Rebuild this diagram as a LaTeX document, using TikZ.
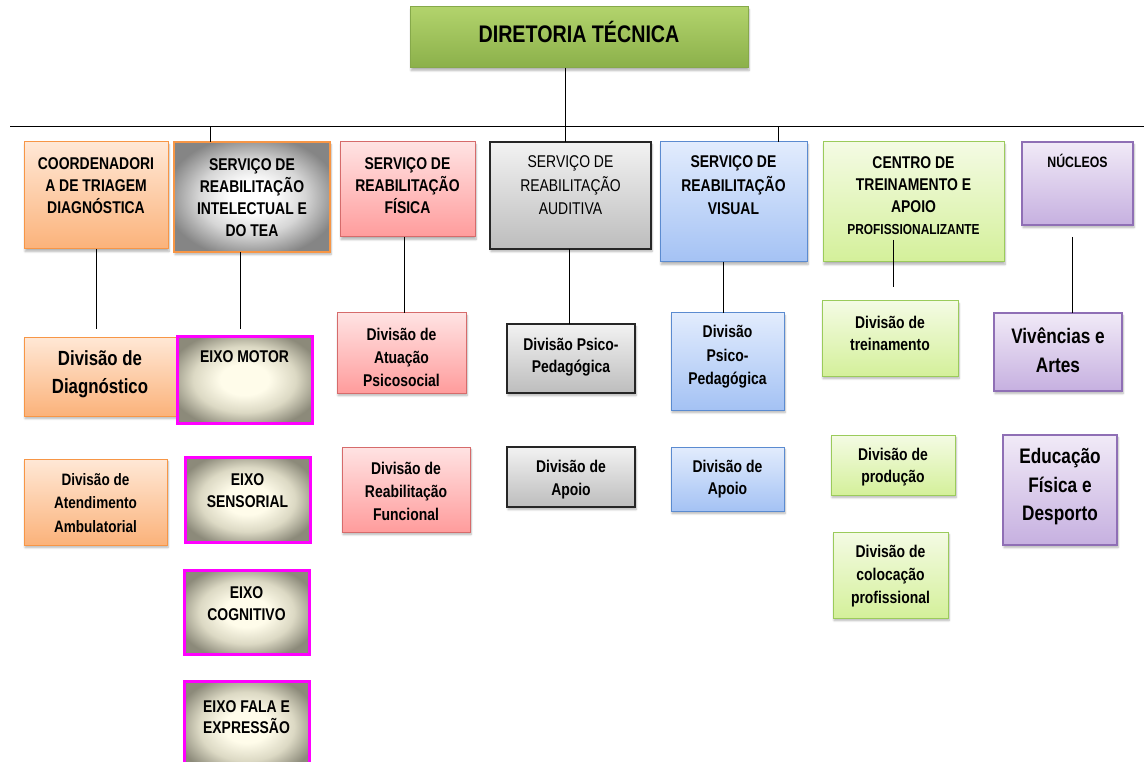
\documentclass[tikz,border=0pt]{standalone}
\usepackage{fontspec}
\setmainfont{Liberation Sans}[FakeStretch=0.82]
\usetikzlibrary{shadows.blur}
\definecolor{orbd}{HTML}{F79646}
\definecolor{ortop}{HTML}{FFE8D6}
\definecolor{orbot}{HTML}{FBB27A}
\definecolor{rdbd}{HTML}{D66B6B}
\definecolor{rdtop}{HTML}{FFE3E3}
\definecolor{rdbot}{HTML}{FF9C9C}
\definecolor{gytop}{HTML}{F2F2F2}
\definecolor{gybot}{HTML}{BDBDBD}
\definecolor{blbd}{HTML}{5B8BD0}
\definecolor{bltop}{HTML}{E2ECFD}
\definecolor{blbot}{HTML}{A4C2F4}
\definecolor{lgbd}{HTML}{9BCB5B}
\definecolor{lgtop}{HTML}{F4FBE4}
\definecolor{lgbot}{HTML}{D4F09A}
\definecolor{ppbd}{HTML}{8F6FB5}
\definecolor{pptop}{HTML}{F1EAF7}
\definecolor{ppbot}{HTML}{C6B0E0}
\definecolor{dgtop}{HTML}{B2D36C}
\definecolor{dgbot}{HTML}{8BB04A}
\definecolor{dgbd}{HTML}{86A94A}
\definecolor{mag}{HTML}{FF00FF}
\definecolor{cream}{HTML}{FFFCEA}
\definecolor{creammid}{HTML}{DCD9C4}
\definecolor{olgray}{HTML}{8C8A7A}
\definecolor{midgray}{HTML}{858585}
\definecolor{lgray}{HTML}{D6D6D6}
\pgfdeclareradialshading{intshade}{\pgfpoint{0bp}{0bp}}{color(0bp)=(white); color(7bp)=(white); color(17bp)=(lgray); color(28bp)=(midgray); color(50bp)=(midgray)}
\pgfdeclareradialshading{eixoshade}{\pgfpoint{0bp}{0bp}}{color(0bp)=(cream); color(9bp)=(cream); color(19bp)=(creammid); color(29bp)=(olgray); color(50bp)=(olgray)}
\tikzset{
  bx/.style={rectangle, inner sep=0pt, outer sep=0pt, line width=1pt,
    blur shadow={shadow xshift=1pt, shadow yshift=-2.5pt, shadow blur steps=6, shadow opacity=30}},
  orbox/.style={bx, draw=orbd, top color=ortop, bottom color=orbot},
  rdbox/.style={bx, draw=rdbd, top color=rdtop, bottom color=rdbot},
  gybox/.style={bx, draw=black!85, line width=1.3pt, top color=gytop, bottom color=gybot},
  blbox/.style={bx, draw=blbd, top color=bltop, bottom color=blbot},
  lgbox/.style={bx, draw=lgbd, top color=lgtop, bottom color=lgbot},
  ppbox/.style={bx, draw=ppbd, line width=1.2pt, top color=pptop, bottom color=ppbot},
  dirbox/.style={bx, draw=dgbd, top color=dgtop, bottom color=dgbot},
  intbox/.style={bx, draw=orbd, line width=1.3pt, shading=intshade},
  eixobox/.style={rectangle, inner sep=0pt, outer sep=0pt, draw=mag, line width=3pt,
    shading=eixoshade},
  txt/.style={inner sep=0pt, align=center, font=\bfseries\fontsize{17}{22}\selectfont},
  conn/.style={draw=black, line width=1pt},
}
\newcommand\bx[6]{\node[#1, minimum width={(#5)-(#3)}, minimum height={(#6)-(#4)}] (#2) at ({((#3)+(#5))/2},{((#4)+(#6))/2}) {};}
\begin{document}
\begin{tikzpicture}[x=1pt,y=-1pt]
\useasboundingbox (0,0) rectangle (1144,762);
\clip (0,0) rectangle (1144,762);
% boxes
\bx{dirbox}{dir}{410}{7}{748}{68}
\bx{orbox}{coord}{24}{142}{168}{249}
\bx{intbox}{intel}{174}{142}{330}{252}
\bx{rdbox}{fis}{340}{142}{475}{237}
\bx{gybox}{aud}{490}{142}{651}{249}
\bx{blbox}{vis}{660}{142}{807}{262}
\bx{lgbox}{centro}{823}{142}{1004}{262}
\bx{ppbox}{nuc}{1022}{142}{1133}{225}
\bx{orbox}{diag}{24}{337}{176}{416}
\bx{eixobox}{motor}{177}{336}{312}{423}
\bx{orbox}{ambul}{24}{459}{167}{545}
\bx{eixobox}{sens}{185}{457}{310}{542}
\bx{eixobox}{cogn}{184}{570}{309}{654}
\bx{eixobox}{fala}{184}{681}{309}{772}
\bx{rdbox}{atua}{337}{313}{466}{393}
\bx{gybox}{psicog}{507}{324}{635}{393}
\bx{rdbox}{func}{342}{447}{470}{532}
\bx{gybox}{apoiog}{507}{447}{635}{507}
\bx{blbox}{psicob}{671}{313}{784}{410}
\bx{blbox}{apoiob}{671}{447}{784}{511}
\bx{lgbox}{trein}{822}{301}{958}{376}
\bx{lgbox}{prod}{831}{435}{955}{495}
\bx{lgbox}{coloc}{833}{532}{948}{618}
\bx{ppbox}{viv}{994}{313}{1122}{391}
\bx{ppbox}{educ}{1003}{435}{1117}{545}
% texts
\node[txt, font=\bfseries\fontsize{24}{28}\selectfont] (dir-t) at (579,32) {DIRETORIA TÉCNICA};
\node[txt] (coord-t) at (96,186) {COORDENADORI\\A DE TRIAGEM\\DIAGNÓSTICA};
\node[txt] (intel-t) at (252,197.5) {SERVIÇO DE\\REABILITAÇÃO\\INTELECTUAL E\\DO TEA};
\node[txt] (fis-t) at (407.5,185.5) {SERVIÇO DE\\REABILITAÇÃO\\FÍSICA};
\node[txt, font=\mdseries\fontsize{17}{23.5}\selectfont] (aud-t) at (570.5,185.5) {SERVIÇO DE\\REABILITAÇÃO\\AUDITIVA};
\node[txt, font=\bfseries\fontsize{17}{23.5}\selectfont] (vis-t) at (733.5,185.5) {SERVIÇO DE\\REABILITAÇÃO\\VISUAL};
\node[txt] (centro-t) at (913.5,196) {CENTRO DE\\TREINAMENTO E\\APOIO\\{\fontsize{14.5}{20}\selectfont PROFISSIONALIZANTE}};
\node[txt, font=\bfseries\fontsize{15}{18}\selectfont] (nuc-t) at (1077.5,161) {NÚCLEOS};
\node[txt, font=\bfseries\fontsize{20.5}{28}\selectfont] (diag-t) at (100,374) {Divisão de\\Diagnóstico};
\node[txt] (motor-t) at (244.5,357) {EIXO MOTOR};
\node[txt, font=\bfseries\fontsize{16.5}{23.5}\selectfont] (ambul-t) at (95.5,503) {Divisão de\\Atendimento\\Ambulatorial};
\node[txt] (sens-t) at (247.5,491) {EIXO\\SENSORIAL};
\node[txt] (cogn-t) at (246.5,603.5) {EIXO\\COGNITIVO};
\node[txt, font=\bfseries\fontsize{17}{20.5}\selectfont] (fala-t) at (246.5,717) {EIXO FALA E\\EXPRESSÃO};
\node[txt, font=\bfseries\fontsize{17}{23}\selectfont] (atua-t) at (401.5,357) {Divisão de\\Atuação\\Psicosocial};
\node[txt] (psicog-t) at (571,357) {Divisão Psico-\\Pedagógica};
\node[txt, font=\bfseries\fontsize{17}{23}\selectfont] (func-t) at (406,491) {Divisão de\\Reabilitação\\Funcional};
\node[txt, font=\bfseries\fontsize{17}{23}\selectfont] (apoiog-t) at (571,479.5) {Divisão de\\Apoio};
\node[txt, font=\bfseries\fontsize{17}{23.5}\selectfont] (psicob-t) at (727.5,357) {Divisão\\Psico-\\Pedagógica};
\node[txt] (apoiob-t) at (727.5,479) {Divisão de\\Apoio};
\node[txt] (trein-t) at (890,333) {Divisão de\\treinamento};
\node[txt] (prod-t) at (893,467) {Divisão de\\produção};
\node[txt, font=\bfseries\fontsize{17}{23}\selectfont] (coloc-t) at (890.5,576) {Divisão de\\colocação\\profissional};
\node[txt, font=\bfseries\fontsize{21}{29}\selectfont] (viv-t) at (1058,350.5) {Vivências e\\Artes};
\node[txt, font=\bfseries\fontsize{21}{28.5}\selectfont] (educ-t) at (1060,487) {Educação\\Física e\\Desporto};
% connectors
\coordinate (hl) at (10,127);
\coordinate (hr) at (1144,127);
\coordinate (dx) at (565,127);
\draw[conn] (hl) -- (hr);
\draw[conn] (dir.south -| dx) -- (aud.north -| dx);
\draw[conn] (intel.north -| 210,0) -- (hl -| 210,0);
\draw[conn] (vis.north -| 778,0) -- (hl -| 778,0);
\coordinate (e1) at (96,329);
\coordinate (e2) at (240,329);
\draw[conn] (coord.south -| e1) -- (e1);
\draw[conn] (intel.south -| e2) -- (e2);
\draw[conn] (fis.south -| 404,0) -- (atua.north -| 404,0);
\draw[conn] (aud.south -| 569,0) -- (psicog.north -| 569,0);
\draw[conn] (vis.south -| 723,0) -- (psicob.north -| 723,0);
\coordinate (c1) at (893,240);
\coordinate (c2) at (893,287);
\draw[conn] (c1) -- (c2);
\coordinate (n1) at (1072,237);
\draw[conn] (n1) -- (viv.north -| n1);
\end{tikzpicture}
\end{document}
